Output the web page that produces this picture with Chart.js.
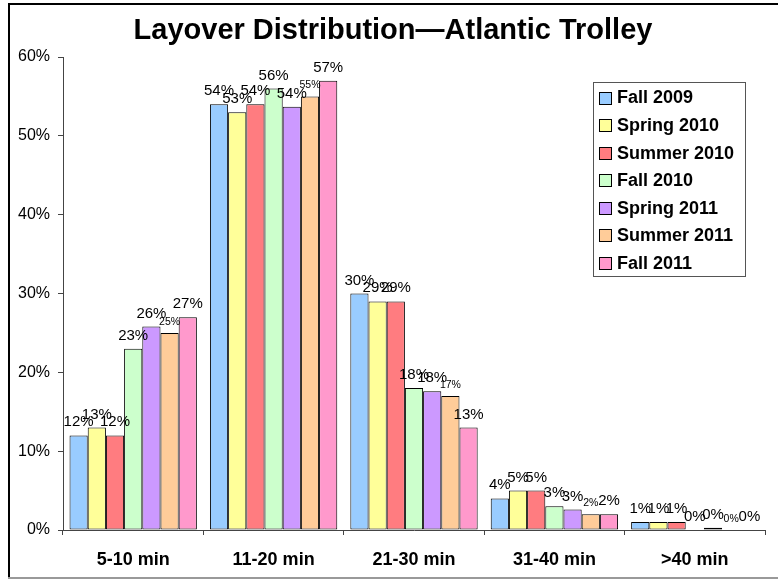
<!DOCTYPE html>
<html>
<head>
<meta charset="utf-8">
<script src="https://cdn.jsdelivr.net/npm/chart.js@4"></script>
<style>
  html, body { margin: 0; padding: 0; background: #fff; }
  #wrap { width: 778px; height: 580px; }
</style>
</head>
<body>
<div id="wrap"><canvas id="c" width="778" height="580"></canvas></div>
<script>
const chartTitle = 'Layover Distribution\u2014Atlantic Trolley';
const categories = ['5-10 min', '11-20 min', '21-30 min', '31-40 min', '>40 min'];
const seriesNames = ['Fall 2009', 'Spring 2010', 'Summer 2010', 'Fall 2010', 'Spring 2011', 'Summer 2011', 'Fall 2011'];
const fall2009   = [12, 54, 30, 4, 1];
const spring2010 = [13, 53, 29, 5, 1];
const summer2010 = [12, 54, 29, 5, 1];
const fall2010   = [23, 56, 18, 3, 0];
const spring2011 = [25.8, 53.7, 17.6, 2.6, 0.3];
const summer2011 = [25, 55, 17, 2, 0];
const fall2011   = [27, 57, 13, 2, 0];
const seriesValues = [fall2009, spring2010, summer2010, fall2010, spring2011, summer2011, fall2011];
const yMin = 0, yMax = 60, yStep = 10;

const seriesColors = ['#99CCFF', '#FFFF99', '#FF7C80', '#CCFFCC', '#CC99FF', '#FFCC99', '#FF99CC'];
const labelSizes = [15, 15, 15, 15, 15, 10.5, 15];
const FONT = '"Liberation Sans", Arial, Helvetica, sans-serif';

const datasets = seriesNames.map((name, i) => ({
  label: name,
  data: seriesValues[i],
  backgroundColor: seriesColors[i],
  borderColor: '#000',
  borderWidth: 1,
  borderSkipped: false,
  categoryPercentage: 0.907,
  barPercentage: 1.0,
  labelSize: labelSizes[i]
}));

const framePlugin = {
  id: 'frame',
  beforeDraw(chart) {
    const ctx = chart.ctx;
    ctx.save();
    ctx.fillStyle = '#fff';
    ctx.fillRect(0, 0, chart.width, chart.height);
    ctx.fillStyle = '#000';
    ctx.fillRect(8, 3, chart.width - 8, 2);
    ctx.fillRect(8, 3, 2, chart.height - 5);
    ctx.fillStyle = '#999';
    ctx.fillRect(8, 577, chart.width - 8, 2);
    ctx.restore();
  },
  afterDraw(chart) {
    const ctx = chart.ctx;
    ctx.save();
    // title
    ctx.fillStyle = '#000';
    ctx.font = 'bold 29px ' + FONT;
    ctx.textAlign = 'center';
    ctx.textBaseline = 'middle';
    ctx.fillText(chartTitle, 393, 31);
    // legend
    const bx = 593.5, by = 82.5, bw = 152, bh = 194;
    ctx.fillStyle = '#fff';
    ctx.fillRect(bx, by, bw, bh);
    ctx.strokeStyle = '#555';
    ctx.lineWidth = 1;
    ctx.strokeRect(bx, by, bw, bh);
    ctx.font = 'bold 18px ' + FONT;
    ctx.textAlign = 'left';
    ctx.textBaseline = 'middle';
    chart.data.datasets.forEach((ds, i) => {
      const cy = 97.5 + i * 27.55;
      ctx.fillStyle = ds.backgroundColor;
      ctx.fillRect(599.5, Math.round(cy - 6) + 0.5, 12, 12);
      ctx.strokeStyle = '#000';
      ctx.strokeRect(599.5, Math.round(cy - 6) + 0.5, 12, 12);
      ctx.fillStyle = '#000';
      ctx.fillText(ds.label, 617, cy + 1);
    });
    ctx.restore();
  }
};

const valueLabels = {
  id: 'valueLabels',
  afterDatasetsDraw(chart) {
    const ctx = chart.ctx;
    chart.data.datasets.forEach((ds, i) => {
      const meta = chart.getDatasetMeta(i);
      ctx.save();
      ctx.font = ds.labelSize + 'px ' + FONT;
      ctx.fillStyle = '#000';
      ctx.textAlign = 'center';
      ctx.textBaseline = 'alphabetic';
      const gap = ds.labelSize < 12 ? 8 : 9;
      meta.data.forEach((bar, j) => {
        ctx.fillText(Math.round(ds.data[j]) + '%', bar.x, bar.y - gap);
      });
      ctx.restore();
    });
  }
};

new Chart(document.getElementById('c'), {
  type: 'bar',
  data: { labels: categories, datasets: datasets },
  options: {
    responsive: false,
    animation: false,
    layout: { padding: { top: 57, right: 13, left: 0, bottom: 0 } },
    plugins: {
      legend: { display: false },
      title: { display: false },
      tooltip: { enabled: false }
    },
    scales: {
      x: {
        grid: { display: true, drawOnChartArea: false, drawTicks: true, tickLength: 5, color: '#444', offset: true },
        border: { display: true, color: '#444', width: 1 },
        ticks: { color: '#000', font: { family: FONT, size: 18, weight: 'bold' }, padding: 14, maxRotation: 0 },
        afterFit(scale) { scale.height = 50; }
      },
      y: {
        min: yMin, max: yMax,
        grid: { display: true, drawOnChartArea: false, drawTicks: true, tickLength: 5, color: '#444' },
        border: { display: true, color: '#444', width: 1 },
        ticks: { stepSize: yStep, color: '#000', font: { family: FONT, size: 16 }, padding: 8,
                 callback: v => v + '%' },
        afterFit(scale) { scale.width = 63; }
      }
    }
  },
  plugins: [framePlugin, valueLabels]
});
</script>
</body>
</html>
